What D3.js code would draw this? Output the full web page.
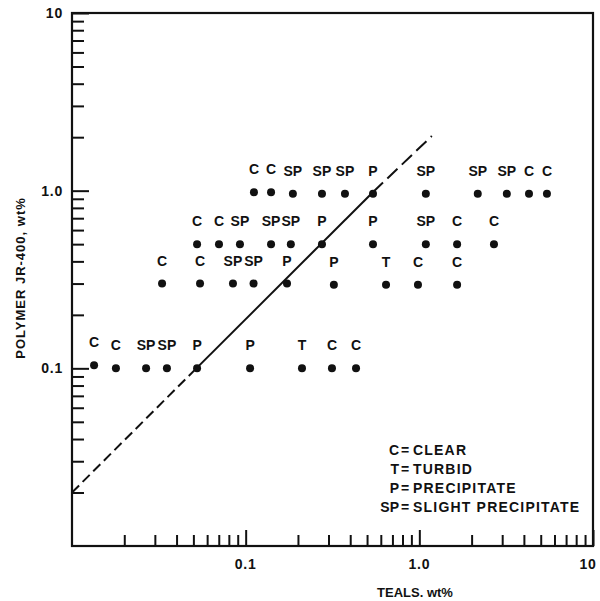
<!DOCTYPE html>
<html>
<head>
<meta charset="utf-8">
<script src="https://cdn.jsdelivr.net/npm/d3@7"></script>
<style>
  html, body { margin: 0; padding: 0; background: #fff; }
  text { font-family: "Liberation Sans", Arial, Helvetica, sans-serif; font-weight: bold; fill: #111; }
</style>
</head>
<body>
<svg id="chart" width="600" height="601"></svg>
<script>
// ---- Data ----
const pointX = [
  0.0134, 0.0179, 0.0267, 0.0352, 0.0525, 0.106, 0.211, 0.314, 0.432,
  0.033, 0.0546, 0.0845, 0.111, 0.173, 0.322, 0.643, 0.982, 1.65,
  0.0525, 0.0702, 0.0927, 0.14, 0.182, 0.275, 0.541, 1.09, 1.65, 2.69,
  0.1116, 0.14, 0.187, 0.275, 0.373, 0.541, 1.09, 2.17, 3.19, 4.28, 5.43
];
const pointY = [
  0.104, 0.1, 0.1, 0.1, 0.1, 0.1, 0.1, 0.1, 0.1,
  0.3, 0.3, 0.3, 0.3, 0.3, 0.295, 0.295, 0.295, 0.295,
  0.5, 0.5, 0.5, 0.5, 0.5, 0.5, 0.5, 0.5, 0.5, 0.5,
  0.98, 0.98, 0.96, 0.96, 0.96, 0.96, 0.96, 0.96, 0.96, 0.96, 0.96
];
const pointLabel = [
  "C", "C", "SP", "SP", "P", "P", "T", "C", "C",
  "C", "C", "SP", "SP", "P", "P", "T", "C", "C",
  "C", "C", "SP", "SP", "SP", "P", "P", "SP", "C", "C",
  "C", "C", "SP", "SP", "SP", "P", "SP", "SP", "SP", "C", "C"
];
// boundary line: dashed / solid / dashed pieces
const lineX = [0.01, 0.052, 0.54, 1.18];
const lineY = [0.02, 0.1, 0.98, 2.03];
const lineDashed = [true, false, true];

const xDomain = [0.01, 10];
const yDomain = [0.01, 10];
const xTickLabels = ["0.1", "1.0", "10"];
const xTickValues = [0.1, 1, 10];
const yTickLabels = ["0.1", "1.0", "10"];
const yTickValues = [0.1, 1, 10];
const minorMultipliers = [2, 3, 4, 5, 6, 7, 8, 9];
const decades = [0.01, 0.1, 1];

const legendCodes = ["C", "T", "P", "SP"];
const legendNames = ["CLEAR", "TURBID", "PRECIPITATE", "SLIGHT PRECIPITATE"];

const xTitle = "TEALS. wt%";
const yTitle = "POLYMER JR-400, wt%";

// ---- Layout ----
const padL = 72, padR = 593, padT = 13, padB = 546;
const svg = d3.select("#chart");
const x = d3.scaleLog().domain(xDomain).range([padL, padR]);
const y = d3.scaleLog().domain(yDomain).range([padB, padT]);

const ink = "#111";

// frame
svg.append("rect")
  .attr("x", padL).attr("y", padT)
  .attr("width", padR - padL).attr("height", padB - padT)
  .attr("fill", "none").attr("stroke", ink).attr("stroke-width", 2.2);

// minor tick values
const minor = [];
decades.forEach(d => minorMultipliers.forEach(m => minor.push(d * m)));

// x axis ticks (inward, pointing up)
const xAxisMinor = d3.axisTop(x).tickValues(minor).tickSize(11).tickFormat("");
const xAxisMajor = d3.axisTop(x).tickValues(xTickValues).tickSize(16).tickFormat("");
[xAxisMinor, xAxisMajor].forEach(ax => {
  const g = svg.append("g").attr("transform", `translate(0,${padB})`).call(ax);
  g.select(".domain").remove();
  g.selectAll("line").attr("stroke", ink).attr("stroke-width", 2);
});
// y axis ticks (inward, pointing right)
const yAxisMinor = d3.axisRight(y).tickValues(minor).tickSize(12).tickFormat("");
const yAxisMajor = d3.axisRight(y).tickValues(yTickValues).tickSize(17).tickFormat("");
[yAxisMinor, yAxisMajor].forEach(ax => {
  const g = svg.append("g").attr("transform", `translate(${padL},0)`).call(ax);
  g.select(".domain").remove();
  g.selectAll("line").attr("stroke", ink).attr("stroke-width", 2);
});

// tick labels
svg.append("g").selectAll("text").data(xTickValues).join("text")
  .attr("x", (d, i) => x(d) - (i === xTickValues.length - 1 ? 5 : 0))
  .attr("y", 569)
  .attr("text-anchor", "middle")
  .attr("font-size", 14)
  .attr("letter-spacing", 0.8)
  .text((d, i) => xTickLabels[i]);

svg.append("g").selectAll("text").data(yTickValues).join("text")
  .attr("x", 63)
  .attr("y", d => y(d) + 5)
  .attr("text-anchor", "end")
  .attr("font-size", 14)
  .attr("letter-spacing", 0.8)
  .text((d, i) => yTickLabels[i]);

// axis titles
svg.append("text")
  .attr("x", 415).attr("y", 597)
  .attr("text-anchor", "middle")
  .attr("font-size", 13)
  .text(xTitle);

svg.append("text")
  .attr("transform", "translate(25,278) rotate(-90)")
  .attr("text-anchor", "middle")
  .attr("font-size", 13)
  .attr("letter-spacing", 1)
  .text(yTitle);

// boundary line
for (let i = 0; i < lineX.length - 1; i++) {
  svg.append("line")
    .attr("x1", x(lineX[i])).attr("y1", y(lineY[i]))
    .attr("x2", x(lineX[i + 1])).attr("y2", y(lineY[i + 1]))
    .attr("stroke", ink).attr("stroke-width", 2)
    .attr("stroke-dasharray", lineDashed[i] ? (i === 0 ? "10,5" : "14,6") : null);
}

// points
const pts = pointX.map((d, i) => ({ x: d, y: pointY[i], label: pointLabel[i] }));
svg.append("g").selectAll("circle").data(pts).join("circle")
  .attr("cx", d => x(d.x)).attr("cy", d => y(d.y))
  .attr("r", 4).attr("fill", ink);

svg.append("g").selectAll("text").data(pts).join("text")
  .attr("x", d => x(d.x)).attr("y", d => y(d.y) - 18)
  .attr("text-anchor", "middle")
  .attr("font-size", 14)
  .text(d => d.label);

// legend
const legY0 = 455, legStep = 19;
const leg = svg.append("g");
legendCodes.forEach((c, i) => {
  const yy = legY0 + i * legStep;
  leg.append("text").attr("x", 399).attr("y", yy).attr("text-anchor", "end")
    .attr("font-size", 14).text(c);
  leg.append("text").attr("x", 401).attr("y", yy)
    .attr("font-size", 14).text("=");
  leg.append("text").attr("x", 413).attr("y", yy)
    .attr("font-size", 14).attr("letter-spacing", 1.2).text(legendNames[i]);
});
</script>
</body>
</html>
